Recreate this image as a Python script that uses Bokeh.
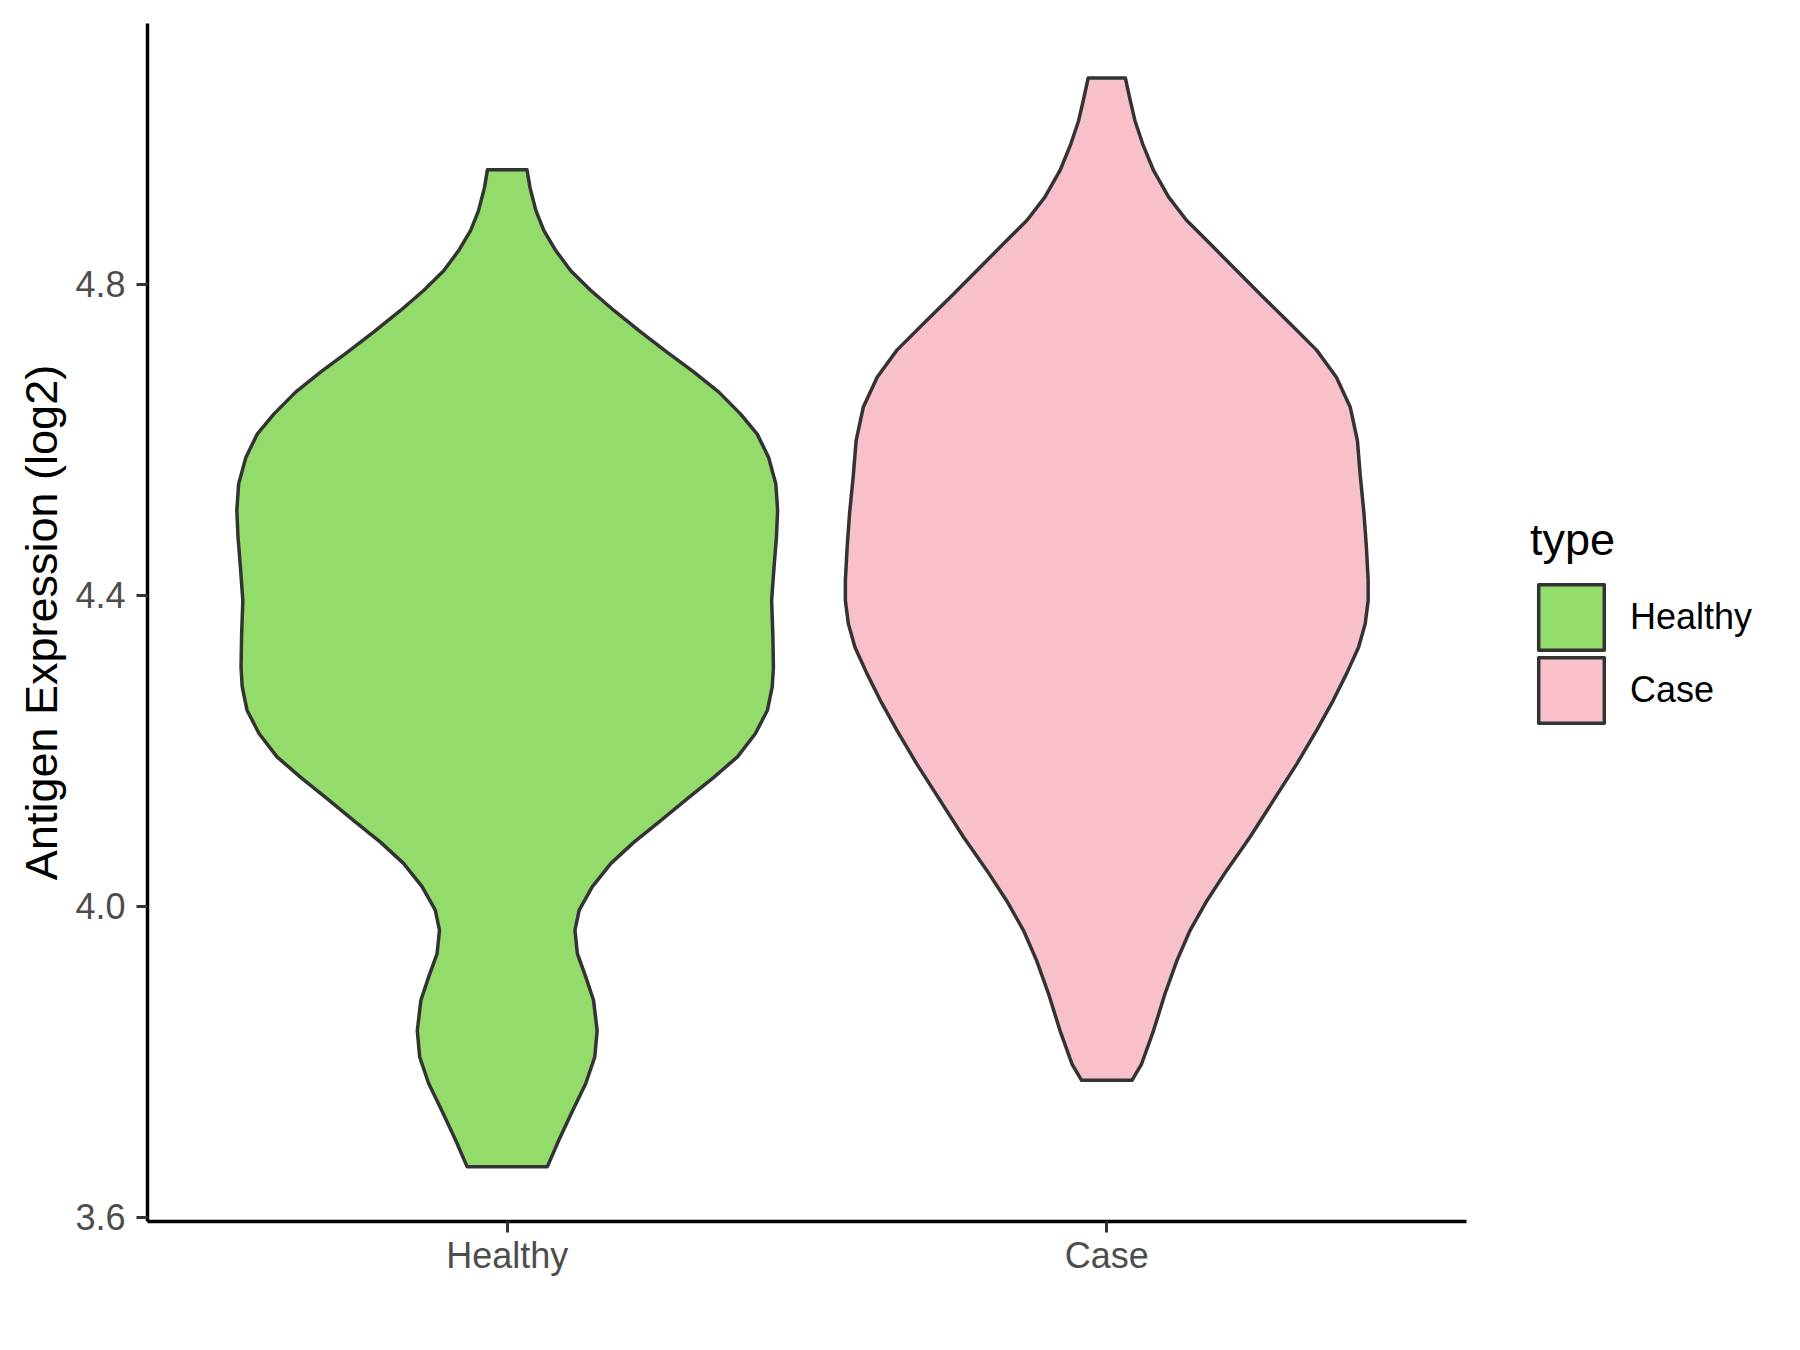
from bokeh.plotting import figure
from bokeh.models import (FixedTicker, NumeralTickFormatter, Legend, LegendItem)
from bokeh.embed import file_html
from bokeh.resources import INLINE

# ---- data ----
categories = ["Healthy", "Case"]
cat_pos = [1, 2]
y_ticks = [3.6, 4.0, 4.4, 4.8]
fill_colors = ["#93DB6A", "#F8C0CB"]

# violin profiles: y value and half-width (in category units), top to bottom
healthy_y = [4.947, 4.924, 4.894, 4.869, 4.843, 4.817, 4.792, 4.766, 4.738, 4.712,
             4.687, 4.661, 4.633, 4.607, 4.577, 4.543, 4.509, 4.474, 4.436, 4.393,
             4.350, 4.307, 4.282, 4.252, 4.222, 4.192, 4.166, 4.138, 4.110, 4.082,
             4.055, 4.025, 3.995, 3.969, 3.939, 3.909, 3.879, 3.840, 3.806, 3.772,
             3.737, 3.699, 3.665]
healthy_w = [0.033, 0.038, 0.048, 0.061, 0.081, 0.106, 0.139, 0.178, 0.223, 0.267,
             0.311, 0.353, 0.389, 0.417, 0.436, 0.448, 0.451, 0.449, 0.445, 0.441,
             0.443, 0.444, 0.442, 0.434, 0.414, 0.384, 0.345, 0.300, 0.256, 0.211,
             0.173, 0.142, 0.120, 0.113, 0.117, 0.131, 0.144, 0.150, 0.146, 0.131,
             0.109, 0.086, 0.067]

case_y = [5.065, 5.040, 5.010, 4.980, 4.946, 4.912, 4.882, 4.852, 4.817, 4.783,
          4.749, 4.715, 4.680, 4.642, 4.599, 4.552, 4.505, 4.462, 4.419, 4.393,
          4.363, 4.333, 4.299, 4.265, 4.226, 4.183, 4.136, 4.089, 4.046, 4.007,
          3.969, 3.930, 3.887, 3.840, 3.797, 3.776]
case_w = [0.031, 0.038, 0.047, 0.060, 0.078, 0.103, 0.133, 0.172, 0.217, 0.261,
          0.306, 0.350, 0.383, 0.406, 0.418, 0.423, 0.429, 0.433, 0.436, 0.436,
          0.431, 0.420, 0.400, 0.378, 0.350, 0.317, 0.278, 0.239, 0.200, 0.167,
          0.139, 0.117, 0.097, 0.078, 0.058, 0.042]

profiles = [(healthy_y, healthy_w), (case_y, case_w)]

FONT = "Liberation Sans"

W, H = 1784, 1334
LEFT, TOP, BOTTOM = 147, 23, 113
PX_PER_UNIT = 1319 / 2.2          # horizontal scale of the panel
x_end = 0.4 + (W - LEFT) / PX_PER_UNIT

p = figure(width=W, height=H, output_backend="svg", toolbar_location=None,
           x_range=(0.4, x_end), y_range=(3.5945, 5.135),
           min_border_left=LEFT, min_border_right=0, min_border_top=TOP,
           min_border_bottom=BOTTOM)

p.xgrid.visible = False
p.ygrid.visible = False
p.outline_line_color = None
p.background_fill_color = "white"

renderers = []
for (ys, ws), c, col in zip(profiles, cat_pos, fill_colors):
    xs = [c - w for w in ws] + [c + w for w in reversed(ws)]
    yy = list(ys) + list(reversed(ys))
    r = p.patch(xs, yy, fill_color=col, line_color="#333333", line_width=3.5,
                line_join="round")
    renderers.append(r)

# axes
p.xaxis.ticker = FixedTicker(ticks=cat_pos)
p.xaxis.major_label_overrides = {c: n for c, n in zip(cat_pos, categories)}
p.xaxis.bounds = (0.4, 2.6)
p.yaxis.ticker = FixedTicker(ticks=y_ticks)
p.yaxis.formatter = NumeralTickFormatter(format="0.0")
p.yaxis.axis_label = "Antigen Expression (log2)"

for ax in (p.xaxis, p.yaxis):
    ax.axis_line_color = "black"
    ax.axis_line_width = 3.5
    ax.major_tick_line_color = "#333333"
    ax.major_tick_line_width = 3
    ax.major_tick_out = 11
    ax.major_tick_in = 0
    ax.minor_tick_line_color = None
    ax.major_label_text_font = FONT
    ax.major_label_text_font_size = "36px"
    ax.major_label_text_color = "#4D4D4D"
    ax.axis_label_text_font = FONT
    ax.axis_label_text_font_size = "45px"
    ax.axis_label_text_font_style = "normal"
    ax.axis_label_text_color = "black"

p.xaxis.major_label_standoff = 2
p.yaxis.major_label_standoff = 11
p.yaxis.axis_label_standoff = 5


def style_legend(lg):
    lg.title_text_font = FONT
    lg.title_text_font_size = "45px"
    lg.title_text_font_style = "normal"
    lg.title_text_color = "black"
    lg.title_standoff = 10
    lg.label_text_font = FONT
    lg.label_text_font_size = "36px"
    lg.label_text_color = "black"
    lg.glyph_width = 82
    lg.glyph_height = 82
    lg.spacing = 0
    lg.label_standoff = 18
    lg.padding = 0
    lg.margin = 0
    lg.border_line_color = None
    lg.background_fill_alpha = 0


# legend: one block per key so that the keys sit close together, as in the reference
legend_top = Legend(items=[LegendItem(label=categories[0], renderers=[renderers[0]])],
                    title="type", location=(1383, 563))
legend_bottom = Legend(items=[LegendItem(label=categories[1], renderers=[renderers[1]])],
                       location=(1383, 490))
for lg in (legend_top, legend_bottom):
    style_legend(lg)
    p.add_layout(lg, "center")

open("out.html", "w").write(file_html(p, INLINE))
